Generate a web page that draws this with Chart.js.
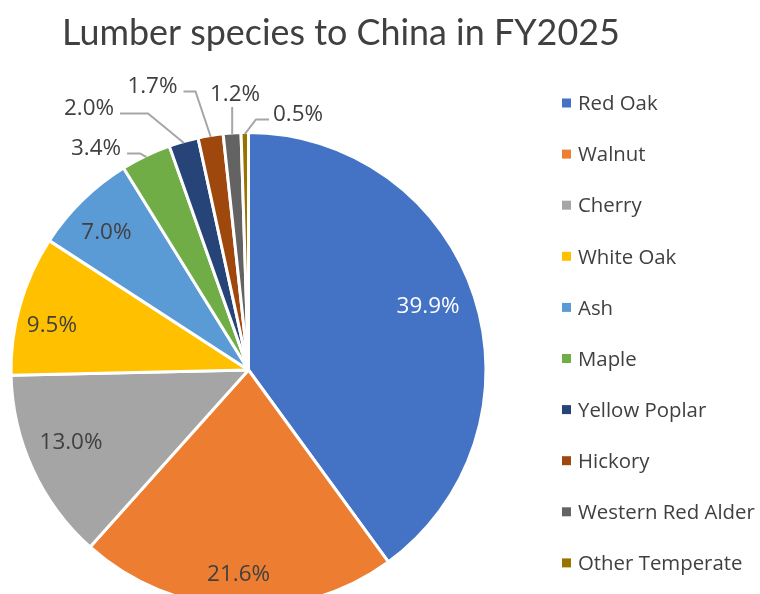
<!DOCTYPE html>
<html><head><meta charset="utf-8">
<script src="https://cdn.jsdelivr.net/npm/chart.js@4"></script>
<style>html,body{margin:0;padding:0;overflow:hidden;background:#fff}canvas{display:block}</style>
</head><body>
<canvas id="c" width="760" height="620"></canvas>
<script>
const chartTitle = "Lumber species to China in FY2025";
const species = ["Red Oak","Walnut","Cherry","White Oak","Ash","Maple","Yellow Poplar","Hickory","Western Red Alder","Other Temperate"];
const shares = [39.9, 21.6, 13.0, 9.5, 7.0, 3.4, 2.0, 1.7, 1.2, 0.5];
const colors = ["#4472C4","#ED7D31","#A5A5A5","#FFC000","#5B9BD5","#70AD47","#264478","#9E480E","#636363","#997300"];

// label placement (centre of text relative to pie centre, in pie radii)
const labelLayout = [
  {x: 0.761, y:-0.275, color:'#FFFFFF'},
  {x:-0.042, y: 0.862},
  {x:-0.752, y: 0.301},
  {x:-0.833, y:-0.195},
  {x:-0.602, y:-0.589},
  {x:-0.646, y:-0.945, leader:true, nub:13},
  {x:-0.676, y:-1.114, leader:true, nub:28},
  {x:-0.407, y:-1.208, leader:true, nub:12},
  {x:-0.057, y:-1.174, leader:true},
  {x: 0.210, y:-1.089, leader:true, nub:13}
];

const FONT = '"Open Sans", "Noto Sans", sans-serif';
const TITLE_FONT = 'Lato, "Open Sans", sans-serif';
const CAP = 0.714;
const TEXT = '#404040';

function fitSize(ctx, text, target, weight, fam) {
  ctx.font = (weight||'') + ' 100px ' + (fam || FONT);
  return 100 * target / ctx.measureText(text).width;
}

const decor = {
  id: 'decor',
  afterDraw(chart) {
    const ctx = chart.ctx;
    ctx.save();
    // title
    const ts = fitSize(ctx, chartTitle, 558, '400', TITLE_FONT);
    ctx.font = '400 ' + ts + 'px ' + TITLE_FONT;
    ctx.fillStyle = TEXT;
    ctx.textBaseline = 'alphabetic';
    ctx.textAlign = 'left';
    ctx.fillText(chartTitle, 62, 45);

    // legend
    const ls = fitSize(ctx, 'Western Red Alder', 177);
    ctx.font = ls + 'px ' + FONT;
    species.forEach((s, i) => {
      const yc = 103 + i * 51.1;
      ctx.fillStyle = colors[i];
      ctx.fillRect(562, yc - 4.5, 9, 9);
      ctx.fillStyle = TEXT;
      ctx.fillText(s, 578, yc + ls * CAP / 2);
    });

    // data labels
    const fs = fitSize(ctx, '39.9%', 63);
    ctx.font = fs + 'px ' + FONT;
    const meta = chart.getDatasetMeta(0);
    meta.data.forEach((arc, i) => {
      const L = labelLayout[i];
      const R = arc.outerRadius - 1.5;
      const cx = arc.x + L.x * R, cy = arc.y + L.y * R;
      const txt = shares[i].toFixed(1) + '%';
      const w = ctx.measureText(txt).width;
      ctx.fillStyle = L.color || TEXT;
      ctx.textAlign = 'center';
      ctx.fillText(txt, cx, cy + fs * CAP / 2);
      if (L.leader) {
        const mid = (arc.startAngle + arc.endAngle) / 2;
        const ex = arc.x + R * Math.cos(mid), ey = arc.y + R * Math.sin(mid);
        ctx.strokeStyle = '#A6A6A6';
        ctx.lineWidth = 2;
        ctx.beginPath();
        if (Math.abs(cx - ex) < w / 2) {
          ctx.moveTo(ex, cy + fs * CAP / 2 + 6);
          ctx.lineTo(ex, ey);
        } else if (cx < ex) {
          const sx = cx + w / 2 + 6, sy = cy + 6.5;
          ctx.moveTo(sx, sy);
          ctx.lineTo(sx + L.nub, sy);
          ctx.lineTo(ex, ey);
        } else {
          const sx = cx - w / 2 - 4, sy = cy + 6.5;
          ctx.moveTo(sx, sy);
          ctx.lineTo(sx - L.nub, sy);
          ctx.lineTo(ex, ey);
        }
        ctx.stroke();
      }
    });
    ctx.restore();
  }
};

new Chart(document.getElementById('c'), {
  type: 'pie',
  data: {
    labels: species,
    datasets: [{
      data: shares,
      backgroundColor: colors,
      borderColor: '#FFFFFF',
      borderWidth: 3,
      hoverOffset: 0
    }]
  },
  options: {
    responsive: false,
    animation: false,
    events: [],
    layout: { padding: { left: 9.5, top: 131, right: 272.5, bottom: 11 } },
    plugins: { legend: { display: false }, title: { display: false }, tooltip: { enabled: false } }
  },
  plugins: [decor]
});
</script>
</body></html>
